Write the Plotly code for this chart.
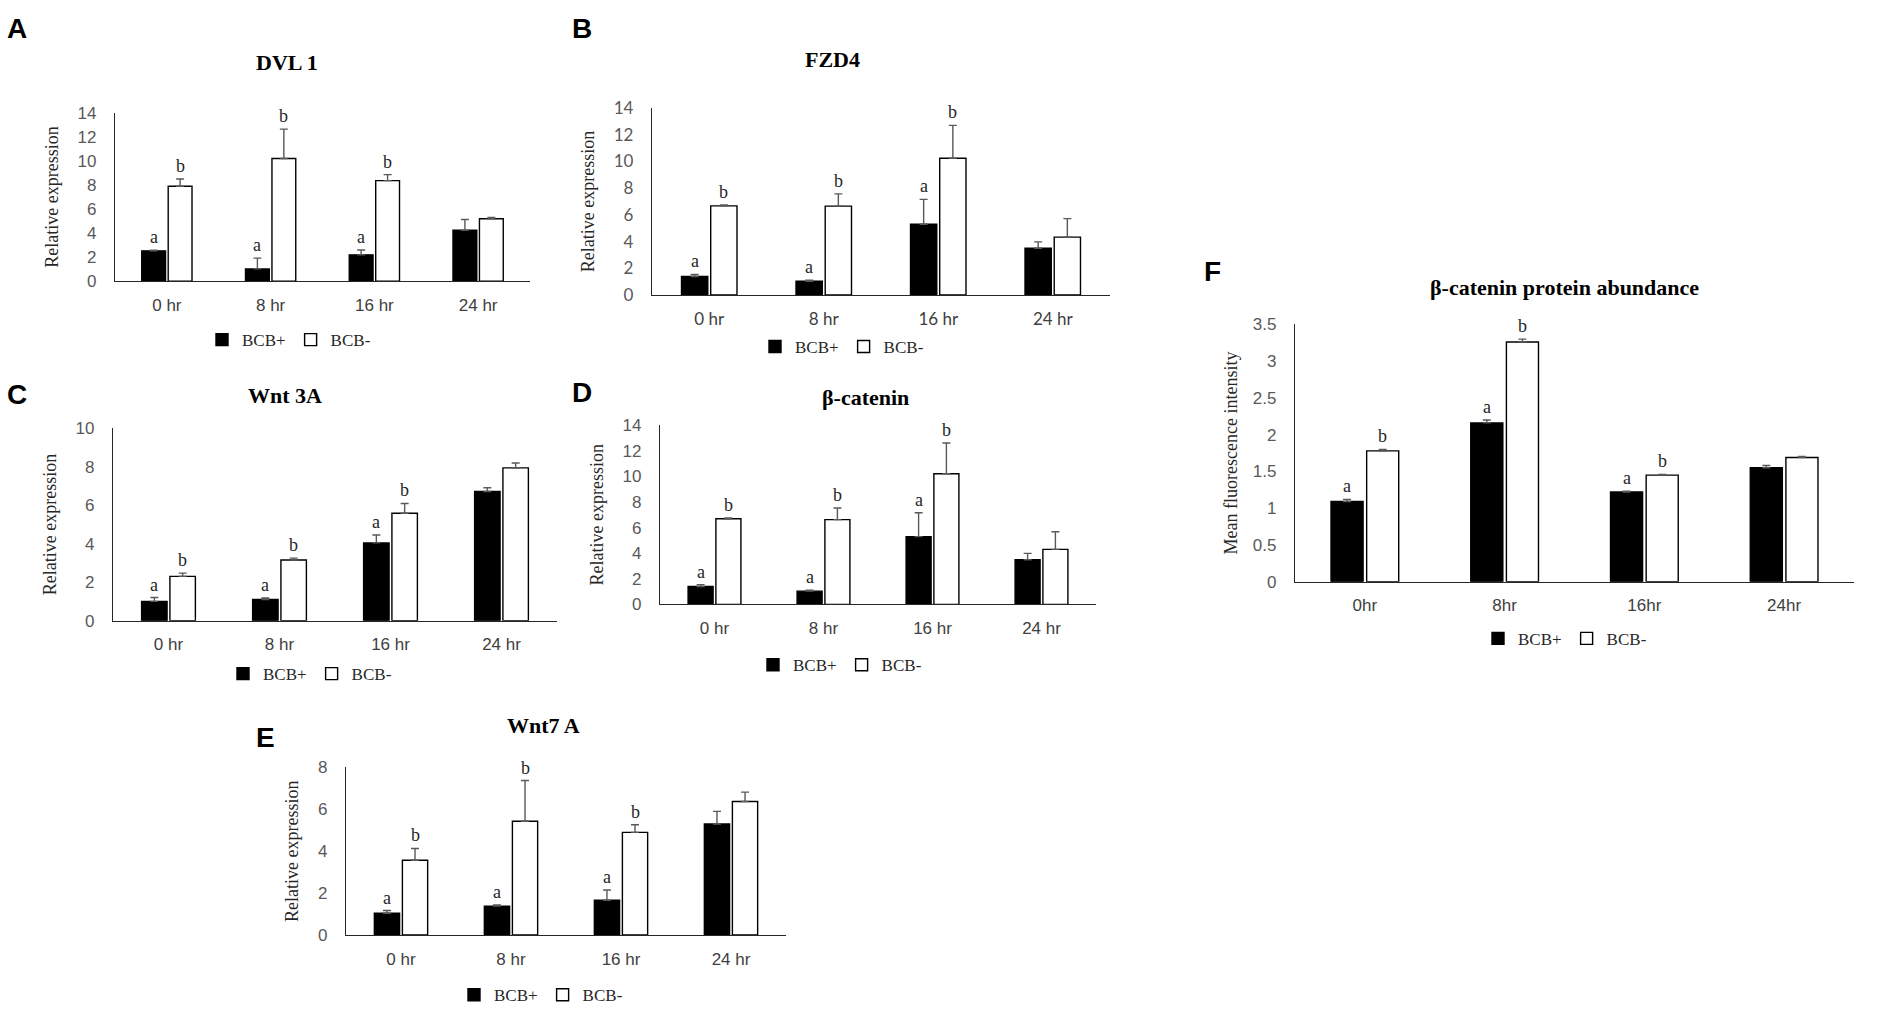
import plotly.graph_objects as go

W, H = 1902, 1018

# ---------------- data ----------------
hours = ["0 hr", "8 hr", "16 hr", "24 hr"]
hours_f = ["0hr", "8hr", "16hr", "24hr"]
series_names = ["BCB+", "BCB-"]

dvl1_pos = [2.53, 1.03, 2.20, 4.24]
dvl1_pos_err = [0.05, 0.90, 0.40, 0.90]
dvl1_neg = [7.90, 10.20, 8.37, 5.20]
dvl1_neg_err = [0.60, 2.45, 0.50, 0.10]

fzd4_pos = [1.39, 1.03, 5.30, 3.50]
fzd4_pos_err = [0.15, 0.07, 1.86, 0.48]
fzd4_neg = [6.67, 6.65, 10.24, 4.33]
fzd4_neg_err = [0.08, 0.92, 2.46, 1.39]

wnt3a_pos = [1.00, 1.10, 4.04, 6.71]
wnt3a_pos_err = [0.20, 0.08, 0.41, 0.20]
wnt3a_neg = [2.30, 3.15, 5.58, 7.94]
wnt3a_neg_err = [0.17, 0.10, 0.51, 0.25]

bcat_pos = [1.40, 1.04, 5.29, 3.49]
bcat_pos_err = [0.15, 0.07, 1.86, 0.50]
bcat_neg = [6.69, 6.62, 10.20, 4.30]
bcat_neg_err = [0.06, 0.91, 2.40, 1.37]

wnt7a_pos = [1.04, 1.38, 1.66, 5.30]
wnt7a_pos_err = [0.13, 0.05, 0.49, 0.60]
wnt7a_neg = [3.57, 5.43, 4.90, 6.37]
wnt7a_neg_err = [0.56, 1.94, 0.36, 0.45]

prot_pos = [1.09, 2.16, 1.22, 1.55]
prot_pos_err = [0.03, 0.04, 0.01, 0.03]
prot_neg = [1.78, 3.26, 1.45, 1.69]
prot_neg_err = [0.02, 0.04, 0.01, 0.015]

letters_pos = ["a", "a", "a", ""]
letters_neg = ["b", "b", "b", ""]

# ---------------- panel geometry (pixels) ----------------
SERIF = "Liberation Serif"
SANS = "Liberation Sans"
HUMAN = "Lato"

panels = [
    dict(tag="A", title="DVL 1", cats=hours, pos=dvl1_pos, pos_err=dvl1_pos_err,
         neg=dvl1_neg, neg_err=dvl1_neg_err, ymax=14, dtick=2,
         x0=115, x1=530, y0=276, ytop=104, title_xy=(287, 53), tag_xy=(17, 18),
         leg_xy=(289, 336), ytitle="Relative expression", tickfont=SANS),
    dict(tag="B", title="FZD4", cats=hours, pos=fzd4_pos, pos_err=fzd4_pos_err,
         neg=fzd4_neg, neg_err=fzd4_neg_err, ymax=14, dtick=2,
         x0=652, x1=1110, y0=290, ytop=99, title_xy=(832, 50), tag_xy=(582, 18),
         leg_xy=(842, 343), ytitle="Relative expression", tickfont=HUMAN),
    dict(tag="C", title="Wnt 3A", cats=hours, pos=wnt3a_pos, pos_err=wnt3a_pos_err,
         neg=wnt3a_neg, neg_err=wnt3a_neg_err, ymax=10, dtick=2,
         x0=113, x1=557, y0=622.5, ytop=426, title_xy=(285, 393), tag_xy=(17, 392),
         leg_xy=(310, 677), ytitle="Relative expression", tickfont=SANS),
    dict(tag="D", title="β-catenin", cats=hours, pos=bcat_pos, pos_err=bcat_pos_err,
         neg=bcat_neg, neg_err=bcat_neg_err, ymax=14, dtick=2,
         x0=660, x1=1096, y0=606, ytop=422.7, title_xy=(865, 395), tag_xy=(582, 390),
         leg_xy=(840, 668), ytitle="Relative expression", tickfont=SANS),
    dict(tag="E", title="Wnt7 A", cats=hours, pos=wnt7a_pos, pos_err=wnt7a_pos_err,
         neg=wnt7a_neg, neg_err=wnt7a_neg_err, ymax=8, dtick=2,
         x0=346, x1=786, y0=943.5, ytop=772.3, title_xy=(543, 730), tag_xy=(265, 742),
         leg_xy=(541, 1005), ytitle="Relative expression", tickfont=SANS),
    dict(tag="F", title="β-catenin protein abundance", cats=hours_f, pos=prot_pos,
         pos_err=prot_pos_err, neg=prot_neg, neg_err=prot_neg_err, ymax=3.5, dtick=0.5,
         x0=1295, x1=1854, y0=582.7, ytop=320, title_xy=(1564, 282), tag_xy=(1212, 266),
         leg_xy=(1565, 641), ytitle="Mean fluorescence intensity", tickfont=SANS),
]

fig = go.Figure()
annotations = []
layout_axes = {}

AXIS_COLOR = "#262626"
TICK_COLOR = "#595959"
ERR_COLOR = "#595959"

for i, p in enumerate(panels):
    n = i + 1
    xa = "x" if n == 1 else f"x{n}"
    ya = "y" if n == 1 else f"y{n}"
    xkey = "xaxis" if n == 1 else f"xaxis{n}"
    ykey = "yaxis" if n == 1 else f"yaxis{n}"
    lkey = "legend" if n == 1 else f"legend{n}"

    for name, vals, errs, fill in [(series_names[0], p["pos"], p["pos_err"], "black"),
                                   (series_names[1], p["neg"], p["neg_err"], "white")]:
        fig.add_trace(go.Bar(
            x=p["cats"], y=vals, name=name, xaxis=xa, yaxis=ya, legend=lkey,
            marker=dict(color=fill, line=dict(color="black", width=1.4)),
            error_y=dict(type="data", array=errs, arrayminus=[0] * len(errs),
                         symmetric=False, color=ERR_COLOR, thickness=1.4, width=4),
            showlegend=True,
        ))

    dom_x = [p["x0"] / W, p["x1"] / W]
    dom_y = [1 - p["y0"] / H, 1 - p["ytop"] / H]
    layout_axes[xkey] = dict(
        domain=dom_x, anchor=ya, type="category", showline=True, linecolor=AXIS_COLOR,
        linewidth=1.3, ticks="", showgrid=False, zeroline=False,
        tickfont=dict(family=p["tickfont"], size=17, color="#404040"),
        ticklabelstandoff=8,
    )
    layout_axes[ykey] = dict(
        domain=dom_y, anchor=xa, range=[0, p["ymax"]], dtick=p["dtick"], showline=True,
        linecolor=AXIS_COLOR, linewidth=1.3, ticks="", showgrid=False, zeroline=False,
        tickfont=dict(family=p["tickfont"], size=17, color=TICK_COLOR),
        ticklabelstandoff=14,
        title=dict(text=p["ytitle"], standoff=14 if p["tag"] != "F" else 10,
                   font=dict(family=SERIF, size=18, color="#262626")),
    )
    layout_axes[lkey] = dict(
        x=p["leg_xy"][0] / W, y=1 - p["leg_xy"][1] / H, xanchor="center", yanchor="middle",
        orientation="h", font=dict(family=SERIF, size=17, color="#262626"),
        itemwidth=30, bgcolor="rgba(0,0,0,0)", tracegroupgap=0, itemclick=False,
    )

    # significance letters above error bars
    catw = (p["x1"] - p["x0"]) / 4
    off = 0.1275 * catw
    for vals, errs, letters, sgn in [(p["pos"], p["pos_err"], letters_pos, -1),
                                     (p["neg"], p["neg_err"], letters_neg, 1)]:
        for c, v, e, L in zip(p["cats"], vals, errs, letters):
            if not L:
                continue
            annotations.append(dict(
                x=c, y=v + e, xref=xa, yref=ya, text=L, showarrow=False,
                xshift=sgn * off, yshift=1, yanchor="bottom",
                font=dict(family=SERIF, size=18, color="#262626"),
            ))

    # panel title
    annotations.append(dict(
        x=p["title_xy"][0] / W, y=1 - p["title_xy"][1] / H, xref="paper", yref="paper",
        text=f"<b>{p['title']}</b>", showarrow=False, xanchor="center", yanchor="middle",
        font=dict(family=SERIF, size=22, color="black"),
    ))
    # panel tag
    annotations.append(dict(
        x=p["tag_xy"][0] / W, y=1 - p["tag_xy"][1] / H, xref="paper", yref="paper",
        text=f"<b>{p['tag']}</b>", showarrow=False, xanchor="center", yanchor="middle",
        font=dict(family=SANS, size=28, color="black"),
    ))

fig.update_layout(
    width=W, height=H, margin=dict(l=0, r=0, t=0, b=0), autosize=False,
    paper_bgcolor="white", plot_bgcolor="white",
    barmode="group", bargap=0.49, bargroupgap=0.1,
    annotations=annotations, **layout_axes,
)

fig.write_html("out.html", config={"displayModeBar": False},
               post_script="document.body.style.margin='0';document.body.style.overflow='hidden';")
